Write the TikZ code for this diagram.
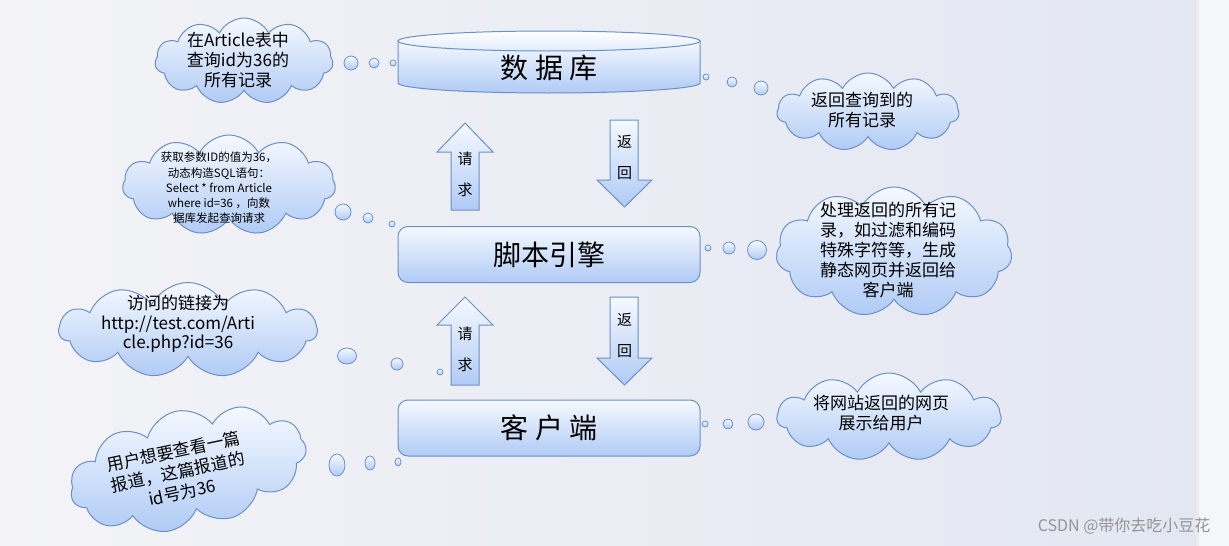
\documentclass[tikz,border=0pt]{standalone}
\usepackage{fontspec}
\setmainfont{Noto Sans CJK SC}
\usetikzlibrary{shapes.symbols,shapes.geometric}

\definecolor{edge}{HTML}{6A90C6}
\definecolor{filltop}{HTML}{F5F9FF}
\definecolor{fillbot}{HTML}{B0CBF5}
\definecolor{bgleft}{HTML}{F3F3F7}
\definecolor{bgright}{HTML}{E3E7F2}
\definecolor{bgstrip}{HTML}{F5F6F9}

\begin{document}
\begin{tikzpicture}[x=1pt, y=-1pt,
  box/.style={draw=edge, line width=1pt, rounded corners=10pt, top color=filltop,
              bottom color=fillbot, minimum width=302pt, minimum height=56pt,
              font=\fontsize{28}{32}\selectfont},
  cloudnote/.style={cloud, cloud puffs=11, cloud puff arc=125, draw=edge, line width=1pt,
              top color=filltop, bottom color=fillbot, inner sep=0pt},
  note/.style={align=center, font=\fontsize{17}{20}\selectfont},
  bubble/.style={ellipse, draw=edge, line width=0.8pt, top color=filltop,
              bottom color=fillbot, inner sep=0pt},
  blockarr/.style={draw=edge, line width=1pt, top color=filltop, bottom color=fillbot},
  arrtext/.style={align=center, font=\fontsize{15}{31}\selectfont}
]
\useasboundingbox (0,0) rectangle (1229,546);
\fill[left color=bgleft, right color=bgright] (0,0) rectangle (1197,546);
\fill[bgstrip] (1197,0) rectangle (1229,546);
\fill[black!8] (1196,0) rectangle (1199,546);

% database
\path[blockarr] (398,41) -- (398,83) arc[start angle=180, end angle=360, x radius=151pt, y radius=10pt]
  -- (700,41) -- cycle;
\path[draw=edge, line width=1pt, top color=white, bottom color=filltop!70!fillbot]
  (549,41) ellipse[x radius=151pt, y radius=10pt];
\node[font=\fontsize{28}{32}\selectfont] (db) at (549,68) {数 据 库};

% script engine and client
\node[box] (engine) at (549,254.5) {脚本引擎};
\node[box] (client) at (549,428) {客 户 端};

% request / return arrows
\path[blockarr] (451,210) -- (451,152) -- (437,152) -- (465,123) -- (493,152) -- (479,152)
  -- (479,210) -- cycle;
\node[arrtext] (req1) at (465,174) {请\\求};
\path[blockarr] (610,120) -- (638,120) -- (638,180) -- (652,180) -- (624.5,207) -- (597,180)
  -- (610,180) -- cycle;
\node[arrtext] (ret1) at (624.5,157) {返\\回};
\path[blockarr] (451,385) -- (451,325) -- (437,325) -- (465,297) -- (493,325) -- (479,325)
  -- (479,385) -- cycle;
\node[arrtext] (req2) at (465,349) {请\\求};
\path[blockarr] (610,297) -- (638,297) -- (638,358) -- (652,358) -- (624.5,385) -- (597,358)
  -- (610,358) -- cycle;
\node[arrtext] (ret2) at (624.5,335) {返\\回};

% thought clouds, left side
\node[cloudnote, minimum width=178pt, minimum height=86pt] (qcloud) at (244,61) {};
\node[note] (qtext) at (238,60) {在Article表中\\查询id为36的\\所有记录};
\node[bubble, minimum size=14pt] (qb1) at (351,63) {};
\node[bubble, minimum size=10pt] (qb2) at (374,63) {};
\node[bubble, minimum size=6pt] (qb3) at (393,63) {};

\node[cloudnote, minimum width=213pt, minimum height=100pt] (scloud) at (229,185) {};
\node[note, font=\fontsize{11.5}{15.3}\selectfont] (stext) at (219,188)
  {获取参数ID的值为36，\\动态构造SQL语句：\\Select * from Article\\where id=36 ，向数\\据库发起查询请求};
\node[bubble, minimum size=16pt] (sb1) at (343,212) {};
\node[bubble, minimum size=10pt] (sb2) at (368,218) {};
\node[bubble, minimum size=6pt] (sb3) at (392,224) {};

\node[cloudnote, minimum width=258pt, minimum height=95pt] (ucloud) at (188,330) {};
\node[note, font=\fontsize{17}{19.5}\selectfont] (utext) at (178,324)
  {访问的链接为\\http://test.com/Arti\\cle.php?id=36};
\node[bubble, minimum width=19pt, minimum height=16pt] (ub1) at (347,356) {};
\node[bubble, minimum size=12pt] (ub2) at (397,364) {};
\node[bubble, minimum size=6pt] (ub3) at (440,372) {};

\node[cloudnote, minimum width=240pt, minimum height=118pt, rotate=12] (acloud) at (188,469) {};
\node[note, font=\fontsize{17}{21}\selectfont, rotate=12] (atext) at (178,472)
  {用户想要查看一篇\\报道，这篇报道的\\id号为36};
\node[bubble, minimum width=16pt, minimum height=22pt] (ab1) at (337,465) {};
\node[bubble, minimum width=10pt, minimum height=14pt] (ab2) at (370,463) {};
\node[bubble, minimum width=6pt, minimum height=8pt] (ab3) at (398,462) {};

% thought clouds, right side
\node[cloudnote, minimum width=182pt, minimum height=78pt] (rcloud) at (868,112) {};
\node[note] (rtext) at (862,110) {返回查询到的\\所有记录};
\node[bubble, minimum size=6pt] (rb1) at (706,77) {};
\node[bubble, minimum size=10pt] (rb2) at (732,82) {};
\node[bubble, minimum size=14pt] (rb3) at (761,88) {};

\node[cloudnote, minimum width=236pt, minimum height=130pt] (pcloud) at (894,252) {};
\node[note] (ptext) at (888,250)
  {处理返回的所有记\\录，如过滤和编码\\特殊字符等，生成\\静态网页并返回给\\客户端};
\node[bubble, minimum size=6pt] (pb1) at (708,248) {};
\node[bubble, minimum size=12pt] (pb2) at (729,248) {};
\node[bubble, minimum size=19pt] (pb3) at (757,250) {};

\node[cloudnote, minimum width=224pt, minimum height=88pt] (dcloud) at (889,417) {};
\node[note] (dtext) at (881,413) {将网站返回的网页\\展示给用户};
\node[bubble, minimum size=6pt] (db1) at (705,424) {};
\node[bubble, minimum size=10pt] (db2) at (728,424) {};
\node[bubble, minimum size=16pt] (db3) at (756,422) {};

\node[text=black!42, font=\fontsize{16}{18}\selectfont, anchor=east] (mark) at (1214,526)
  {CSDN @带你去吃小豆花};
\end{tikzpicture}
\end{document}
